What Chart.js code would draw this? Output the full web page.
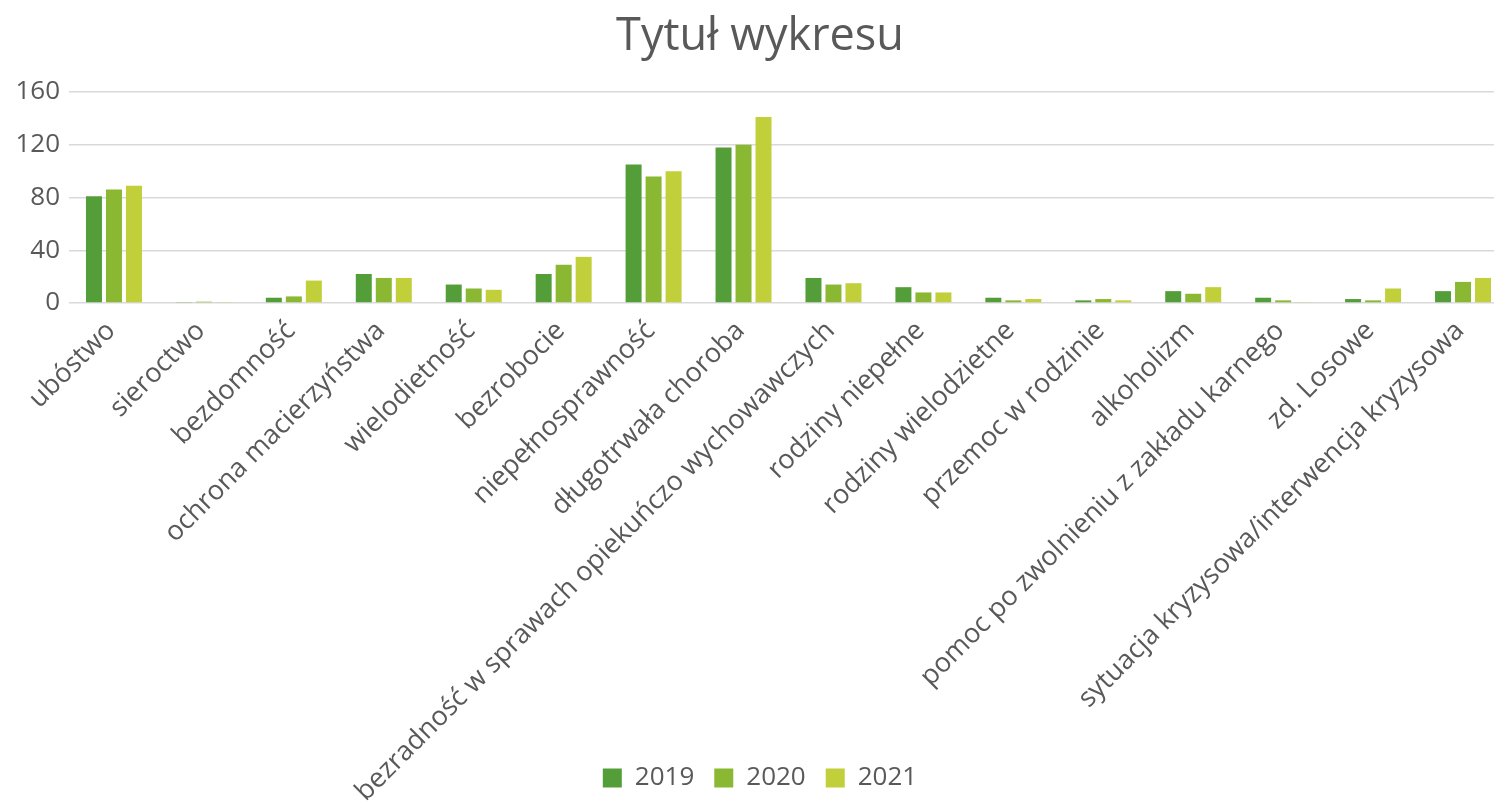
<!DOCTYPE html>
<html>
<head>
<meta charset="utf-8">
<script src="https://cdn.jsdelivr.net/npm/chart.js@4/dist/chart.umd.min.js"></script>
<style>
  html, body { margin: 0; padding: 0; background: #fff; overflow: hidden; }
  #clip { width: 1494px; height: 811px; overflow: hidden; }
  /* the original plot runs a bit past the right edge of the picture */
  #wrap { width: 1508px; height: 811px; }
</style>
</head>
<body>
<div id="clip"><div id="wrap"><canvas id="chart"></canvas></div></div>
<script>
// categories on the x axis
const categories = [
  "ubóstwo",
  "sieroctwo",
  "bezdomność",
  "ochrona macierzyństwa",
  "wielodietność",
  "bezrobocie",
  "niepełnosprawność",
  "długotrwała choroba",
  "bezradność w sprawach opiekuńczo wychowawczych",
  "rodziny niepełne",
  "rodziny wielodzietne",
  "przemoc w rodzinie",
  "alkoholizm",
  "pomoc po zwolnieniu z zakładu karnego",
  "zd. Losowe",
  "sytuacja kryzysowa/interwencja kryzysowa"
];

// values
const values2019 = [81, 0.7, 4, 22, 14, 22, 105, 118, 19, 12, 4, 2, 9, 4, 3, 9];
const values2020 = [86, 1, 5, 19, 11, 29, 96, 120, 14, 8, 2, 3, 7, 2, 2, 16];
const values2021 = [89, 0.7, 17, 19, 10, 35, 100, 141, 15, 8, 3, 2, 12, 0.7, 11, 19];

const seriesNames = ["2019", "2020", "2021"];
const yTickLabels = [0, 40, 80, 120, 160];

const colors = ["#549e39", "#8ab833", "#c0cf3a"];
const textColor = "#595959";
const fontFamily = "'Open Sans', sans-serif";

const datasets = [values2019, values2020, values2021].map((vals, i) => ({
  label: seriesNames[i],
  data: vals,
  backgroundColor: colors[i],
  borderWidth: 0,
  barPercentage: 0.8,
  categoryPercentage: 0.667
}));

// labels may run outside their axis box (like the long rotated ones)
const noLabelClip = (scale) => { scale._computeLabelArea = () => undefined; };

new Chart(document.getElementById("chart"), {
  type: "bar",
  data: { labels: categories, datasets: datasets },
  options: {
    responsive: true,
    maintainAspectRatio: false,
    animation: false,
    layout: { padding: { left: 12, right: 0, top: 0, bottom: 10 } },
    plugins: {
      title: {
        display: true,
        text: "Tytuł wykresu",
        color: textColor,
        font: { family: fontFamily, size: 45, weight: "normal" },
        padding: { top: 10, bottom: 28 }
      },
      legend: {
        position: "bottom",
        labels: {
          color: textColor,
          font: { family: fontFamily, size: 26 },
          boxWidth: 19,
          boxHeight: 19,
          padding: 20
        }
      },
      tooltip: { enabled: false }
    },
    scales: {
      x: {
        grid: { display: false },
        border: { display: false },
        ticks: {
          color: textColor,
          font: { family: fontFamily, size: 27 },
          maxRotation: 45,
          minRotation: 45,
          autoSkip: false,
          padding: 4,
          labelOffset: -3
        },
        afterFit: (scale) => { scale.height = 442; noLabelClip(scale); }
      },
      y: {
        min: 0,
        max: 160,
        border: { display: false },
        grid: { color: "#d9d9d9", lineWidth: 1.5, drawTicks: false },
        ticks: {
          stepSize: 20,
          color: textColor,
          font: { family: fontFamily, size: 26 },
          padding: 9,
          callback: (v) => (yTickLabels.includes(v) ? String(v) : "")
        },
        afterFit: (scale) => { scale.width = 57; noLabelClip(scale); }
      }
    }
  }
});
</script>
</body>
</html>
